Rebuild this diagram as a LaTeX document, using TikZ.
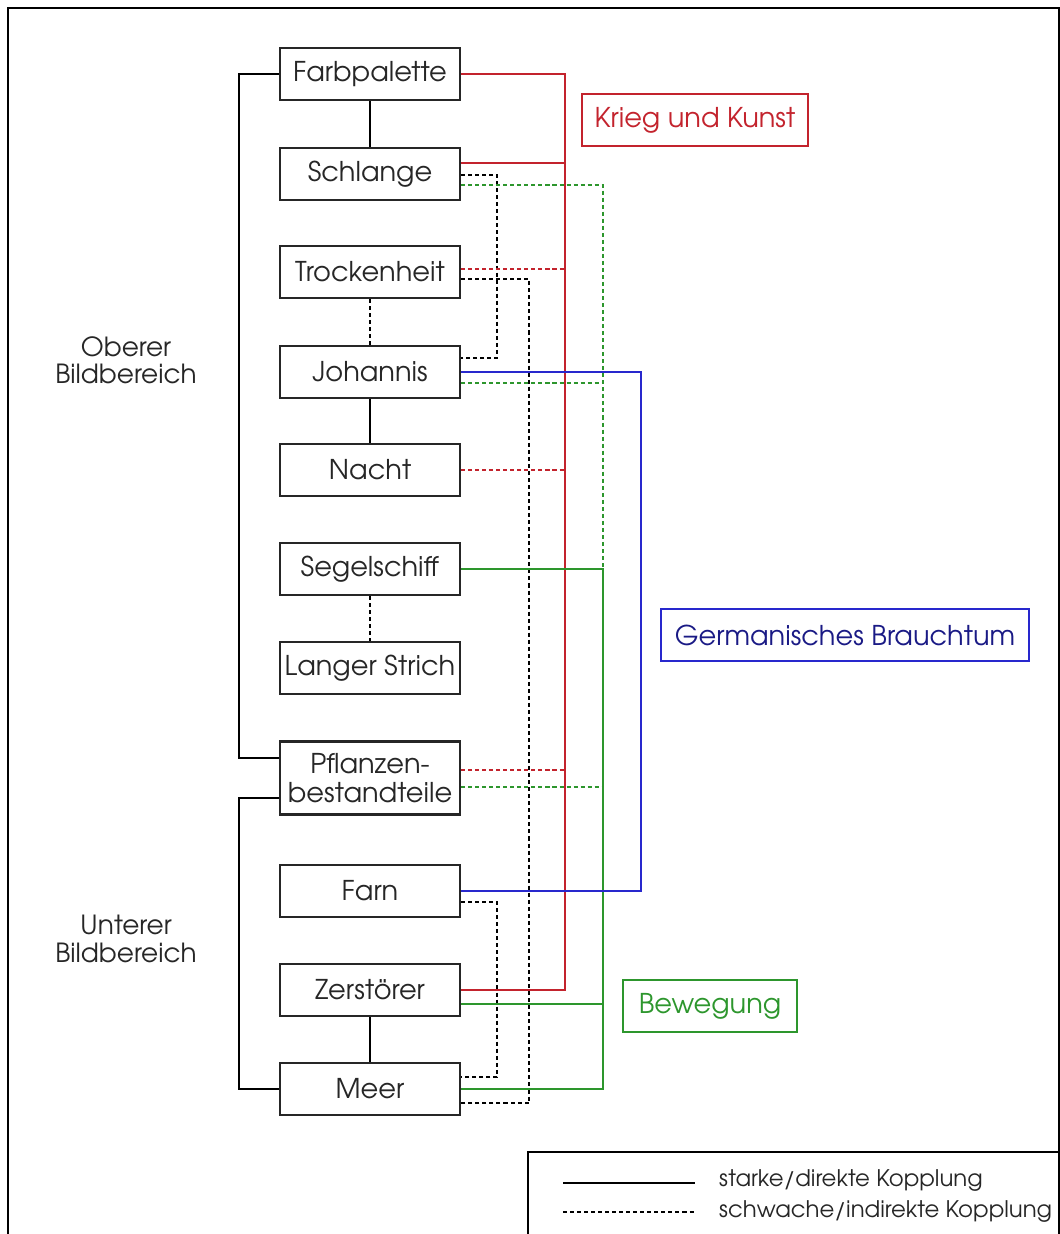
\documentclass[tikz,border=0pt]{standalone}
\usepackage{fontspec}
\setmainfont{TeX Gyre Adventor}
\usetikzlibrary{calc}
\definecolor{KriegRed}{RGB}{195,35,45}
\definecolor{BrauchBlue}{RGB}{40,40,205}
\definecolor{BewegGreen}{RGB}{45,150,45}
\tikzset{
	item/.style={draw=black!85, line width=1.3pt, minimum width=3.6cm, minimum height=1.04cm,
		inner sep=1pt, font=\fontsize{15.5}{16.5}\selectfont, text=black!85, align=center},
	theme/.style={line width=1.2pt, minimum height=1.04cm, inner sep=1pt,
		font=\fontsize{15.5}{16.5}\selectfont},
	area/.style={font=\fontsize{15}{15.5}\selectfont, align=center, text=black!85},
	legend/.style={font=\fontsize{13}{14}\selectfont, text=black!85, anchor=west},
	strong/.style={line width=1pt},
	weak/.style={line width=1pt, dash pattern=on 2.3pt off 1.7pt},
	frame/.style={black, line width=1.5pt},
}

\begin{document}
\begin{tikzpicture}[x=0.02cm, y=-0.02cm]
		\clip (0,0) rectangle (1060,1234);
		\draw[frame] (8,8) rectangle (1059,1300);
		
		% Bildelemente
		\node[item] (farb) at (370,74) {Farbpalette};
		\node[item] (schl) at (370,174) {Schlange};
		\node[item] (trock) at (370,272) {Trockenheit};
		\node[item] (joh) at (370,372) {Johannis};
		\node[item] (nacht) at (370,470) {Nacht};
		\node[item] (segel) at (370,569) {Segelschiff};
		\node[item] (lang) at (370,668) {Langer Strich};
		\node[item, minimum height=1.46cm] (pflanz) at (370,778) {Pflanzen-\\bestandteile};
		\node[item] (farn) at (370,891) {Farn};
		\node[item] (zerst) at (370,990) {Zerstörer};
		\node[item] (meer) at (370,1089) {Meer};
		
		% Themen
		\node[theme, draw=KriegRed, text=KriegRed, minimum width=4.52cm] (krieg) at (695,120) {Krieg und Kunst};
		\node[theme, draw=BrauchBlue, text=BrauchBlue!65!black, minimum width=7.36cm] (germ) at (845,635) {Germanisches Brauchtum};
		\node[theme, draw=BewegGreen, text=BewegGreen, minimum width=3.48cm] (beweg) at (710,1006) {Bewegung};
		
		% Bildbereiche
		\node[area] (oben) at (126,360) {Oberer\\Bildbereich};
		\node[area] (unten) at (126,939) {Unterer\\Bildbereich};
		\draw[strong] (farb.west) -- ++(-40,0) |- ([yshift=0.4cm]pflanz.west);
		\draw[strong] ([yshift=-0.4cm]pflanz.west) -- ++(-40,0) |- (meer.west);
		
		% Kopplungen untereinander
		\draw[strong] (farb) -- (schl);
		\draw[weak] (trock) -- (joh);
		\draw[strong] (joh) -- (nacht);
		\draw[weak] (segel) -- (lang);
		\draw[strong] (zerst) -- (meer);
		
		% schwarz gestrichelt
		\draw[weak] ([yshift=-0.02cm]schl.east) -- ++(36,0) |- ([yshift=0.28cm]joh.east);
		\draw[weak] ([yshift=-0.14cm]trock.east) -- ++(68,0) |- ([yshift=-0.28cm]meer.east);
		\draw[weak] ([yshift=-0.22cm]farn.east) -- ++(36,0) |- ([yshift=0.24cm]meer.east);
		
		% Krieg und Kunst
		\draw[strong, KriegRed] (farb.east) -- ++(104,0) |- (zerst.east);
		\draw[strong, KriegRed] ([yshift=0.22cm]schl.east) -- ++(104,0);
		\draw[weak, KriegRed] ([yshift=0.06cm]trock.east) -- ++(104,0);
		\draw[weak, KriegRed] (nacht.east) -- ++(104,0);
		\draw[weak, KriegRed] ([yshift=0.16cm]pflanz.east) -- ++(104,0);
		
		% Bewegung
		\coordinate (gbus) at ($(segel.east)+(142,0)$);
		\draw[weak, BewegGreen] ([yshift=-0.22cm]schl.east) -| (gbus);
		\draw[weak, BewegGreen] ([yshift=-0.22cm]joh.east) -- ++(142,0);
		\draw[weak, BewegGreen] ([yshift=-0.18cm]pflanz.east) -- ++(142,0);
		\draw[strong, BewegGreen] (segel.east) -- (gbus) |- (meer.east);
		\draw[strong, BewegGreen] ([yshift=-0.28cm]zerst.east) -- ++(142,0);
		
		% Germanisches Brauchtum
		\draw[strong, BrauchBlue] (joh.east) -- ++(180,0) |- (farn.east);
		
		% Legende
		\draw[strong, line width=1.2pt] (528,1152) rectangle (1100,1300);
		\node[legend] (lstark) at (713,1181) {starke/direkte Kopplung};
		\node[legend] (lschwach) at (713,1211) {schwache/indirekte Kopplung};
		\coordinate (ls) at (563,1183);
		\coordinate (lw) at (563,1212);
		\draw[strong, line width=1.2pt] (ls) -- ++(132,0);
		\draw[weak] (lw) -- ++(132,0);
	\end{tikzpicture}
\end{document}
